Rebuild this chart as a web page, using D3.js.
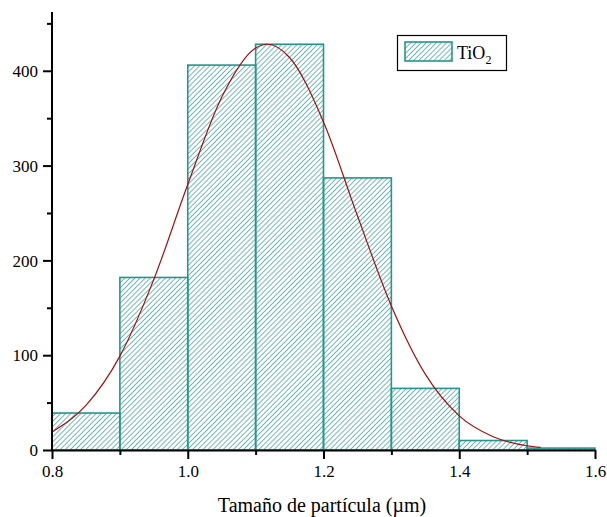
<!DOCTYPE html>
<html>
<head>
<meta charset="utf-8">
<script src="https://cdn.jsdelivr.net/npm/d3@7"></script>
<style>
  html, body { margin: 0; padding: 0; background: #fff; }
  svg { display: block; }
</style>
</head>
<body>
<svg id="chart" width="607" height="517"></svg>
<script>
// Histogram bins (particle size, µm) and counts
const binStarts = [0.8, 0.9, 1.0, 1.1, 1.2, 1.3, 1.4, 1.5];
const binWidth = 0.1;
const counts = [39, 182, 406, 428, 287, 65, 10, 2];

// Fitted distribution curve, sampled points
const curveX = [0.80, 0.85, 0.90, 0.95, 1.00, 1.05, 1.10, 1.117, 1.15, 1.20, 1.25, 1.30, 1.35, 1.40, 1.45, 1.50, 1.52];
const curveY = [19, 47, 99, 180, 280, 372, 424, 428, 414, 346, 247, 152, 80, 36, 14, 4.5, 2.8];

const xTicks = [0.8, 0.9, 1.0, 1.1, 1.2, 1.3, 1.4, 1.5, 1.6];
const xLabels = [0.8, 1.0, 1.2, 1.4, 1.6];
const yTicks = [0, 50, 100, 150, 200, 250, 300, 350, 400, 450];
const yLabels = [0, 100, 200, 300, 400];

const teal = "#23968f";
const serif = "'Liberation Serif', 'Times New Roman', serif";
const svg = d3.select("#chart");

const x = d3.scaleLinear().domain([0.8, 1.6]).range([52, 595]);
const y = d3.scaleLinear().domain([0, 462]).range([450, 12]);

const isLabelX = d => xLabels.some(v => Math.abs(v - d) < 1e-9);

// diagonal hatch pattern
const defs = svg.append("defs");
const pat = defs.append("pattern")
  .attr("id", "hatch")
  .attr("patternUnits", "userSpaceOnUse")
  .attr("width", 3.6).attr("height", 3.6)
  .attr("patternTransform", "rotate(45)");
pat.append("line")
  .attr("x1", 0).attr("y1", 0).attr("x2", 0).attr("y2", 3.6)
  .attr("stroke", teal).attr("stroke-width", 1.3);

// bars
svg.append("g").selectAll("rect")
  .data(binStarts.map((s, i) => ({ s, c: counts[i] })))
  .join("rect")
  .attr("x", d => x(d.s))
  .attr("y", d => y(d.c))
  .attr("width", d => x(d.s + binWidth) - x(d.s))
  .attr("height", d => y(0) - y(d.c))
  .attr("fill", "url(#hatch)")
  .attr("stroke", teal)
  .attr("stroke-width", 1.6);

// fitted curve
const line = d3.line()
  .x((d, i) => x(curveX[i]))
  .y(d => y(d))
  .curve(d3.curveMonotoneX);
svg.append("path")
  .attr("d", line(curveY))
  .attr("fill", "none")
  .attr("stroke", "#a01010")
  .attr("stroke-width", 1.2);

// x axis
const xAxis = svg.append("g").attr("transform", `translate(0,${y(0)})`);
xAxis.call(d3.axisBottom(x).tickValues(xTicks).tickSizeOuter(0)
  .tickFormat(d => isLabelX(d) ? d3.format(".1f")(d) : ""));
xAxis.select(".domain").attr("stroke", "#000").attr("stroke-width", 2);
xAxis.selectAll(".tick line").attr("stroke", "#000").attr("stroke-width", 2)
  .attr("y2", d => isLabelX(d) ? 9 : 5);
xAxis.selectAll(".tick text")
  .style("font-size", "17px").style("font-family", serif)
  .attr("fill", "#000").attr("y", 27).attr("dy", 0);

// y axis
const yAxis = svg.append("g").attr("transform", `translate(${x(0.8)},0)`);
yAxis.call(d3.axisLeft(y).tickValues(yTicks).tickSizeOuter(0)
  .tickFormat(d => yLabels.includes(d) ? d : ""));
yAxis.select(".domain").attr("stroke", "#000").attr("stroke-width", 2)
  .attr("d", `M0,${y(462)}V${y(0)}`);
yAxis.selectAll(".tick line").attr("stroke", "#000").attr("stroke-width", 2)
  .attr("x2", d => yLabels.includes(d) ? -9 : -5);
yAxis.selectAll(".tick text")
  .style("font-size", "17px").style("font-family", serif)
  .attr("fill", "#000").attr("x", -14).attr("dy", "0.34em");

// axis title
svg.append("text")
  .attr("x", 322).attr("y", 512)
  .attr("text-anchor", "middle")
  .style("font-size", "20px").style("font-family", serif)
  .text("Tamaño de partícula (µm)");

// legend
const lg = svg.append("g");
lg.append("rect").attr("x", 397.5).attr("y", 35.5).attr("width", 109).attr("height", 35)
  .attr("fill", "#fff").attr("stroke", "#000").attr("stroke-width", 1.2);
lg.append("rect").attr("x", 405).attr("y", 42).attr("width", 47).attr("height", 19)
  .attr("fill", "url(#hatch)").attr("stroke", teal).attr("stroke-width", 1.6);
const lt = lg.append("text").attr("x", 457).attr("y", 59)
  .style("font-size", "18px").style("font-family", serif);
lt.append("tspan").text("TiO");
lt.append("tspan").attr("dy", 5).style("font-size", "12px").text("2");
</script>
</body>
</html>
